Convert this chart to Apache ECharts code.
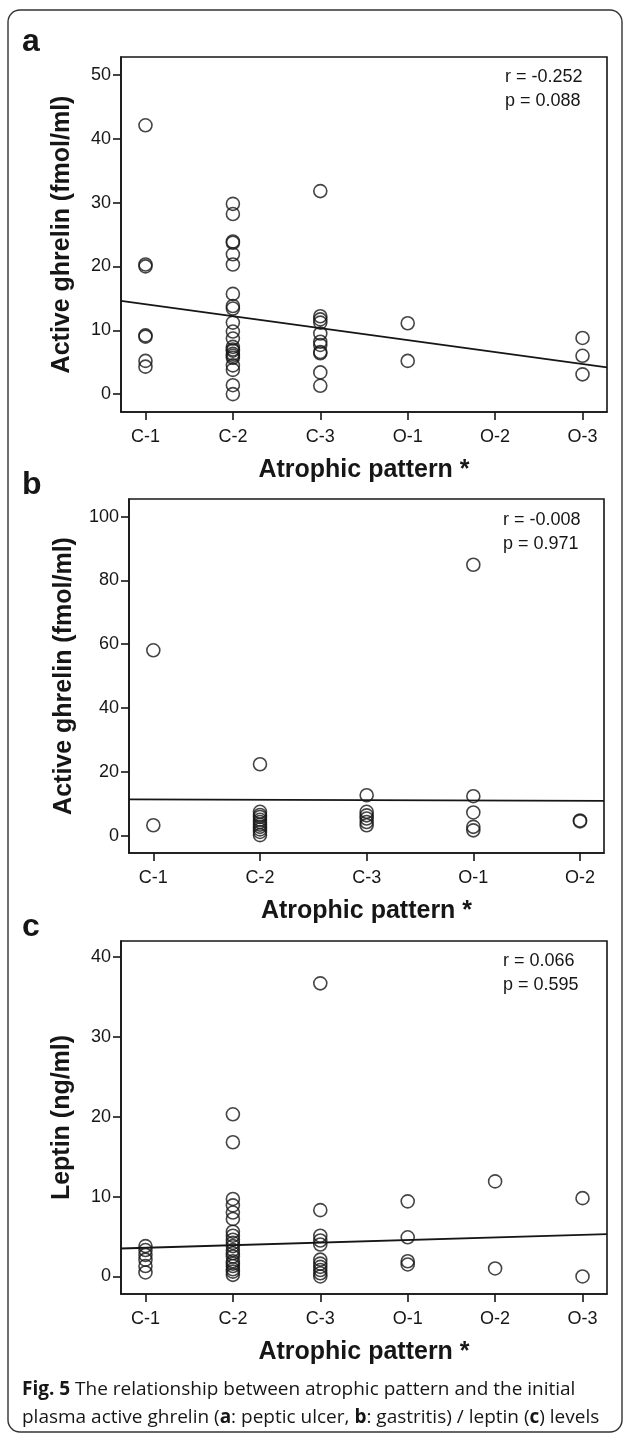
<!DOCTYPE html>
<html>
<head>
<meta charset="utf-8">
<script src="https://cdn.jsdelivr.net/npm/echarts@6/dist/echarts.min.js"></script>
<style>
html,body{margin:0;padding:0;background:#fff;}
#chart{width:630px;height:1438px;}
</style>
</head>
<body>
<div id="chart"></div>
<script>
// ---------- data ----------
const categoriesAC = ['C-1', 'C-2', 'C-3', 'O-1', 'O-2', 'O-3'];
const categoriesB = ['C-1', 'C-2', 'C-3', 'O-1', 'O-2'];

// Panel a: active ghrelin, peptic ulcer (values per category)
const ulcerGhrelin = [
  [42.1, 20.3, 20.0, 9.2, 9.0, 5.2, 4.3],
  [29.8, 28.2, 23.9, 23.7, 21.9, 20.3, 15.7, 13.8, 13.4, 11.2, 9.8, 8.7, 7.4, 7.0, 6.8, 6.3, 6.0, 5.7, 4.5, 3.8, 1.4, 0.0],
  [31.8, 12.2, 11.7, 11.2, 9.5, 8.2, 7.7, 6.6, 6.4, 3.4, 1.3],
  [11.1, 5.2],
  [],
  [8.8, 6.0, 3.1]
];
const ulcerFit = [[0.72, 14.6], [6.28, 4.2]];

// Panel b: active ghrelin, gastritis
const gastritisGhrelin = [
  [58.1, 3.3],
  [22.4, 7.5, 6.5, 5.9, 5.0, 4.3, 3.5, 2.8, 2.0, 1.2, 0.2],
  [12.7, 7.5, 6.4, 5.4, 4.3, 3.3],
  [84.9, 12.4, 7.3, 2.8, 1.7],
  [4.8, 4.5]
];
const gastritisFit = [[0.772, 11.4], [5.225, 10.9]];

// Panel c: leptin
const leptinValues = [
  [3.8, 3.3, 2.7, 2.1, 1.3, 0.5],
  [20.3, 16.8, 9.7, 8.9, 8.0, 7.2, 5.6, 5.1, 4.6, 4.2, 3.8, 3.3, 2.9, 2.5, 1.9, 1.6, 1.3, 0.9, 0.6, 0.2],
  [36.7, 8.3, 5.1, 4.5, 4.0, 2.1, 1.6, 1.2, 0.8, 0.4, 0.0],
  [9.4, 4.9, 1.9, 1.5],
  [11.9, 1.0],
  [9.8, 0.0]
];
const leptinFit = [[0.72, 3.5], [6.28, 5.3]];

const yTicksA = [0, 10, 20, 30, 40, 50];
const yTicksB = [0, 20, 40, 60, 80, 100];
const yTicksC = [0, 10, 20, 30, 40];

const statsA = ['r = -0.252', 'p = 0.088'];
const statsB = ['r = -0.008', 'p = 0.971'];
const statsC = ['r = 0.066', 'p = 0.595'];

// ---------- chart ----------
const INK = '#161616';
const FONT = 'Liberation Sans, Arial, Helvetica, sans-serif';

function toPoints(groups) {
  const out = [];
  groups.forEach((vals, i) => vals.forEach(v => out.push([i + 1, v])));
  return out;
}

function xAxis(gi, cats, min, max) {
  const vals = cats.map((c, i) => i + 1);
  return {
    gridIndex: gi, type: 'value', min: min, max: max,
    axisLine: { show: true, onZero: false, lineStyle: { color: INK, width: 1.6 } },
    axisTick: { show: true, customValues: vals, length: 8, lineStyle: { color: INK, width: 1.6 } },
    axisLabel: { customValues: vals, formatter: v => cats[Math.round(v) - 1], fontSize: 18, color: INK, margin: 16, fontFamily: FONT },
    splitLine: { show: false },
    name: 'Atrophic pattern *', nameLocation: 'middle', nameGap: 46,
    nameTextStyle: { fontSize: 25, fontWeight: 'bold', color: INK, fontFamily: FONT }
  };
}

function yAxis(gi, ticks, min, max, name, gap) {
  return {
    gridIndex: gi, type: 'value', min: min, max: max,
    axisLine: { show: true, onZero: false, lineStyle: { color: INK, width: 1.6 } },
    axisTick: { show: true, customValues: ticks, length: 8, lineStyle: { color: INK, width: 1.6 } },
    axisLabel: { customValues: ticks, fontSize: 18, color: INK, margin: 10, fontFamily: FONT },
    splitLine: { show: false },
    name: name, nameLocation: 'middle', nameRotate: 90, nameGap: gap,
    nameTextStyle: { fontSize: 25, fontWeight: 'bold', color: INK, fontFamily: FONT }
  };
}

function scatter(gi, groups) {
  return {
    type: 'scatter', xAxisIndex: gi, yAxisIndex: gi,
    data: toPoints(groups), symbol: 'circle', symbolSize: 13,
    itemStyle: { color: 'rgba(255,255,255,0)', borderColor: INK, borderWidth: 1.6 },
    silent: true, z: 3
  };
}

function fitLine(gi, pts) {
  return {
    type: 'line', xAxisIndex: gi, yAxisIndex: gi, data: pts,
    symbol: 'none', lineStyle: { color: INK, width: 1.8 }, silent: true, z: 2
  };
}

function statsText(lines, left, top) {
  return lines.map((t, i) => ({
    type: 'text', left: left, top: top + i * 24,
    style: { text: t, fontSize: 18, fill: INK, fontFamily: FONT }
  }));
}

const gridBase = { show: true, borderColor: INK, borderWidth: 1.6, backgroundColor: 'rgba(0,0,0,0)' };

const option = {
  animation: false,
  backgroundColor: '#fff',
  textStyle: { fontFamily: FONT },
  grid: [
    Object.assign({ left: 121, top: 57, width: 486, height: 355 }, gridBase),
    Object.assign({ left: 129, top: 499, width: 475, height: 354 }, gridBase),
    Object.assign({ left: 121, top: 941, width: 486, height: 353 }, gridBase)
  ],
  xAxis: [
    xAxis(0, categoriesAC, 0.72, 6.28),
    xAxis(1, categoriesB, 0.772, 5.225),
    xAxis(2, categoriesAC, 0.72, 6.28)
  ],
  yAxis: [
    yAxis(0, yTicksA, -2.8, 52.8, 'Active ghrelin (fmol/ml)', 46),
    yAxis(1, yTicksB, -5.4, 105.5, 'Active ghrelin (fmol/ml)', 52),
    yAxis(2, yTicksC, -2.2, 42, 'Leptin (ng/ml)', 46)
  ],
  series: [
    scatter(0, ulcerGhrelin), fitLine(0, ulcerFit),
    scatter(1, gastritisGhrelin), fitLine(1, gastritisFit),
    scatter(2, leptinValues), fitLine(2, leptinFit)
  ],
  graphic: [
    { type: 'rect', shape: { x: 8, y: 10, width: 614, height: 1422, r: 12 },
      style: { fill: 'none', stroke: '#333', lineWidth: 1.4 }, z: -1 },
    { type: 'text', left: 22, top: 26, style: { text: 'a', fontSize: 32, fontWeight: 'bold', fill: INK, fontFamily: FONT } },
    { type: 'text', left: 22, top: 469, style: { text: 'b', fontSize: 32, fontWeight: 'bold', fill: INK, fontFamily: FONT } },
    { type: 'text', left: 22, top: 911, style: { text: 'c', fontSize: 32, fontWeight: 'bold', fill: INK, fontFamily: FONT } },
    ...statsText(statsA, 505, 68),
    ...statsText(statsB, 503, 511),
    ...statsText(statsC, 503, 952),
    { type: 'text', left: 22, top: 1376,
      style: {
        text: '{b|Fig. 5} The relationship between atrophic pattern and the initial\nplasma active ghrelin ({b|a}: peptic ulcer, {b|b}: gastritis) / leptin ({b|c}) levels',
        fontSize: 19, lineHeight: 28, fill: INK, fontFamily: 'Open Sans, Noto Sans, sans-serif',
        rich: { b: { fontWeight: 'bold', fontSize: 19, fill: INK, fontFamily: 'Open Sans, Noto Sans, sans-serif' } }
      } }
  ]
};

const chart = echarts.init(document.getElementById('chart'), null, { renderer: 'canvas' });
chart.setOption(option);
</script>
</body>
</html>
